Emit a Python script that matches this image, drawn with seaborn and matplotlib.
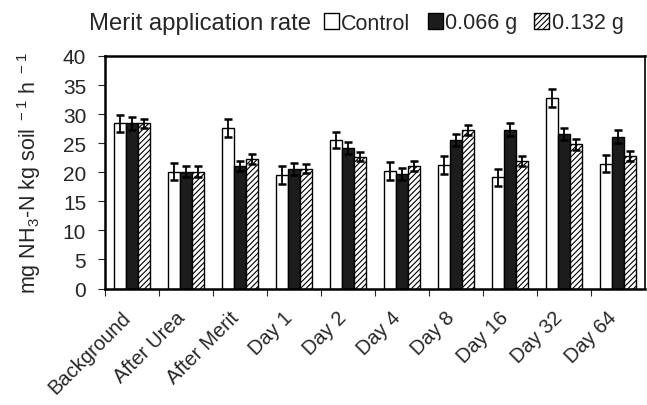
import numpy as np
import pandas as pd
import seaborn as sns
import matplotlib
matplotlib.use("Agg")
import matplotlib.pyplot as plt
import matplotlib.transforms as mtransforms
from matplotlib.patches import Patch

categories = ["Background", "After Urea", "After Merit", "Day 1", "Day 2",
              "Day 4", "Day 8", "Day 16", "Day 32", "Day 64"]
series_names = ["Control", "0.066 g", "0.132 g"]
control = [28.4, 20.1, 27.6, 19.5, 25.6, 20.2, 21.25, 19.1, 32.75, 21.5]
rate_066 = [28.4, 20.1, 21.1, 20.6, 24.2, 19.7, 25.5, 27.35, 26.6, 26.1]
rate_132 = [28.4, 20.1, 22.35, 20.6, 22.7, 21.1, 27.2, 21.95, 24.8, 22.75]
control_err = [1.5, 1.5, 1.5, 1.5, 1.4, 1.55, 1.5, 1.5, 1.5, 1.5]
rate_066_err = [1.1, 1.0, 0.9, 1.05, 1.0, 1.1, 1.0, 1.05, 1.0, 1.1]
rate_132_err = [0.8, 0.9, 0.85, 0.8, 0.85, 0.9, 0.85, 0.9, 0.9, 0.9]
y_ticks = [0, 5, 10, 15, 20, 25, 30, 35, 40]

sns.set_style("white")
plt.rcParams["font.family"] = ["Liberation Sans", "DejaVu Sans"]
plt.rcParams["mathtext.default"] = "regular"
plt.rcParams["hatch.linewidth"] = 0.8

df = pd.DataFrame({
    "category": categories * 3,
    "series": sum([[s] * len(categories) for s in series_names], []),
    "value": control + rate_066 + rate_132,
})
errs = [control_err, rate_066_err, rate_132_err]

fig = plt.figure(figsize=(6.47, 4.06), dpi=100)
ax = fig.add_axes([105 / 647, 1 - 289.5 / 406, 540 / 647, (289.5 - 57) / 406])

palette = {"Control": "white", "0.066 g": "#1c1c1c", "0.132 g": "white"}
sns.barplot(data=df, x="category", y="value", hue="series", order=categories,
            hue_order=series_names, palette=palette, width=0.68,
            edgecolor="black", linewidth=1.0, ax=ax, legend=False, errorbar=None)

for cont, err in zip(ax.containers, errs):
    xs = [p.get_x() + p.get_width() / 2 for p in cont]
    hs = [p.get_height() for p in cont]
    ax.errorbar(xs, hs, yerr=err, fmt="none", ecolor="black", elinewidth=1.3,
                capsize=3.2, capthick=1.8, zorder=5)

for p in ax.containers[2]:
    p.set_hatch("//////")

ax.set_ylim(0, 40)
ax.set_xlim(-0.5, len(categories) - 0.5)
ax.set_yticks(y_ticks)
ax.set_yticklabels([str(t) for t in y_ticks], fontsize=15)
ax.set_xticks(range(len(categories)))
ax.set_xticks(np.arange(-0.5, len(categories) - 0.5, 1.0), minor=True)
ax.tick_params(axis="x", which="major", length=0, pad=13.5)
ax.tick_params(axis="x", which="minor", length=5, width=0.8, direction="out", bottom=True)
ax.tick_params(axis="y", length=5, width=0.8, direction="out", left=True, pad=8.5)
ax.set_xticklabels(categories, rotation=45, ha="right", rotation_mode="anchor", fontsize=14.5)
offset = mtransforms.ScaledTranslation(-11 / 100, 0, fig.dpi_scale_trans)
for lbl in ax.get_xticklabels():
    lbl.set_transform(lbl.get_transform() + offset)
ax.set_xlabel("")
ax.set_ylabel("mg NH$_3$-N kg soil$^{\\ -1}$ h$^{\\ -1}$", fontsize=15.5)
ax.yaxis.set_label_coords(-0.115, 0.5)

for side in ["left", "top", "bottom"]:
    ax.spines[side].set_linewidth(1.8)
    ax.spines[side].set_color("black")
ax.spines["right"].set_linewidth(1.2)
ax.spines["right"].set_color("black")

fig.text(89 / 647, 1 - 24 / 406, "Merit application rate", fontsize=17.2,
         va="center", ha="left")
handles = [Patch(facecolor="white", edgecolor="black", linewidth=1.0),
           Patch(facecolor="#1c1c1c", edgecolor="black", linewidth=1.0),
           Patch(facecolor="white", edgecolor="black", linewidth=1.0, hatch="//////")]
fig.legend(handles, series_names, loc="center left",
           bbox_to_anchor=(324 / 647, 1 - 24 / 406), ncol=3, frameon=False,
           fontsize=15.5, handlelength=0.7, handleheight=0.7, handletextpad=0.1,
           columnspacing=0.8, borderpad=0, borderaxespad=0)

fig.savefig("out.png", dpi=100)
